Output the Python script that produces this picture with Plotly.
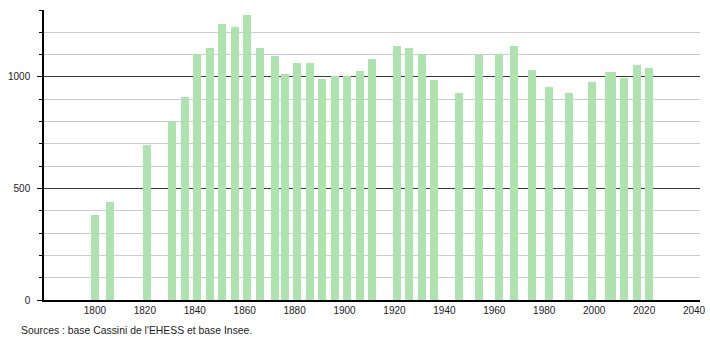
import plotly.graph_objects as go

years = [1800, 1806, 1821, 1831, 1836, 1841, 1846, 1851, 1856, 1861, 1866, 1872,
         1876, 1881, 1886, 1891, 1896, 1901, 1906, 1911, 1921, 1926, 1931, 1936,
         1946, 1954, 1962, 1968, 1975, 1982, 1990, 1999, 2006, 2007, 2012, 2017, 2022]
population = [381, 438, 697, 802, 912, 1103, 1129, 1237, 1223, 1276, 1129, 1092,
              1014, 1061, 1061, 989, 1005, 1005, 1025, 1079, 1139, 1129, 1103, 984,
              930, 1098, 1103, 1139, 1032, 953, 926, 977, 1020, 1020, 993, 1052, 1038]
x_ticks = [1800, 1820, 1840, 1860, 1880, 1900, 1920, 1940, 1960, 1980, 2000, 2020, 2040]
y_ticks = [0, 500, 1000]
source_text = "Sources : base Cassini de l'EHESS et base Insee."

fig = go.Figure()
fig.add_trace(go.Bar(
    x=years, y=population, width=3.2,
    marker=dict(color="rgb(174,226,174)", line=dict(width=0)),
    hoverinfo="x+y",
))

fig.update_layout(
    width=710, height=340,
    margin=dict(l=44, r=10, t=10, b=40, autoexpand=False),
    paper_bgcolor="white", plot_bgcolor="white",
    showlegend=False,
    font=dict(family="Liberation Sans, Arial, sans-serif", size=10, color="#222"),
    bargap=0,
)
fig.update_xaxes(
    range=[1779.6, 2042.4], automargin=False,
    tickmode="array", tickvals=x_ticks,
    showgrid=False, zeroline=False,
    showline=True, linecolor="black", linewidth=1.5,
    ticks="", tickfont=dict(size=10, color="#222"),
)
fig.update_yaxes(
    range=[0, 1300], automargin=False,
    tickmode="array", tickvals=y_ticks,
    showgrid=True, gridcolor="#3a3a3a", gridwidth=1,
    zeroline=False,
    showline=True, linecolor="black", linewidth=1.5,
    ticks="outside", ticklen=5, tickcolor="black", tickwidth=1,
    ticklabelstandoff=5,
    tickfont=dict(size=10, color="#222"),
    minor=dict(dtick=100, tick0=0, showgrid=True, gridcolor="#cccccc", gridwidth=1,
               ticks="outside", ticklen=3, tickcolor="black"),
)

fig.add_annotation(
    text=source_text, xref="paper", yref="paper",
    x=-44/656, y=-30/290, xanchor="left", yanchor="middle",
    showarrow=False, font=dict(size=10.4, color="#222"),
    xshift=19,
)

fig.write_html("out.html")
